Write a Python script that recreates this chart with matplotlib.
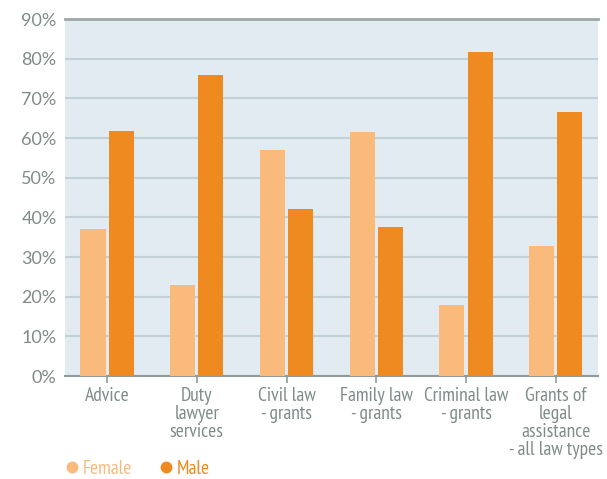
import matplotlib.pyplot as plt
from matplotlib.lines import Line2D
import numpy as np

categories = ["Advice", "Duty\nlawyer\nservices", "Civil law\n- grants",
              "Family law\n- grants", "Criminal law\n- grants",
              "Grants of\nlegal\nassistance\n- all law types"]
female = [37, 23, 57, 61.5, 18, 32.7]
male = [61.7, 75.8, 42, 37.5, 81.7, 66.5]
yticks = [0, 10, 20, 30, 40, 50, 60, 70, 80, 90]

FEMALE_C = "#F9BA7B"
MALE_C = "#EE8A1F"
TEXT_C = "#7F8C89"
BG = "#E3EBF2"

plt.rcParams['font.family'] = ['PT Sans Narrow', 'Roboto Condensed', 'DejaVu Sans']

fig = plt.figure(figsize=(6.07, 4.79), dpi=100)
ax = fig.add_axes([0.107, 0.215, 0.878, 0.745])
ax.set_facecolor(BG)

x = np.arange(len(categories))
w = 0.28
ax.bar(x - w / 2 - 0.017, female, w, color=FEMALE_C, zorder=3)
ax.bar(x + w / 2 + 0.017, male, w, color=MALE_C, zorder=3)

ax.set_xlim(-0.47, len(categories) - 0.53)
ax.set_ylim(0, 90)
ax.set_yticks(yticks)
ax.set_yticklabels([f"{v}%" for v in yticks])
ax.yaxis.grid(True, color="#C2D0D7", linewidth=1.5, zorder=0)
ax.set_xticks(x)
ax.set_xticklabels(categories, linespacing=1.0)

for s in ["left", "right"]:
    ax.spines[s].set_visible(False)
ax.spines["top"].set_color("#9AA8A5")
ax.spines["top"].set_linewidth(2)
ax.spines["bottom"].set_color("#8E9C99")
ax.spines["bottom"].set_linewidth(1.5)

ax.tick_params(axis="y", length=0, labelcolor=TEXT_C, pad=6)
ax.tick_params(axis="x", length=5, width=1.2, color="#8E9C99",
               labelsize=14, labelcolor=TEXT_C, pad=3)
for lab in ax.get_yticklabels():
    lab.set_family(["Lato", "DejaVu Sans"])
    lab.set_fontsize(13)
    lab.set_fontweight("normal")

handles = [Line2D([], [], marker="o", linestyle="", markersize=7.5,
                  color=FEMALE_C, label="Female"),
           Line2D([], [], marker="o", linestyle="", markersize=7.5,
                  color=MALE_C, label="Male")]
leg = fig.legend(handles=handles, loc="center left", bbox_to_anchor=(0.108, 0.021),
                 ncol=2, frameon=False, fontsize=14, handlelength=0.7,
                 handletextpad=0.2, columnspacing=1.4, borderaxespad=0,
                 borderpad=0)
for t, c in zip(leg.get_texts(), [FEMALE_C, MALE_C]):
    t.set_color(c)

fig.savefig("out.png", dpi=100)
